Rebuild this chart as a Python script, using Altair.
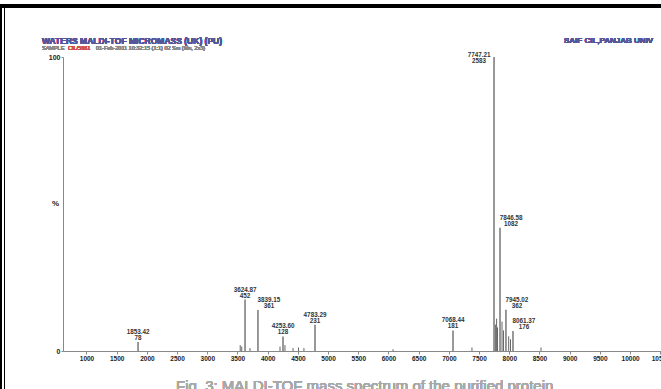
import altair as alt
import pandas as pd

# Labelled peaks of the MALDI-TOF spectrum: m/z and raw counts
peak_mz = [1853.42, 3624.87, 3839.15, 4253.60, 4783.29, 7068.44, 7747.21, 7846.58, 7945.02, 8061.37]
peak_counts = [78, 452, 361, 128, 231, 181, 2583, 1082, 362, 176]

# Unlabelled minor signals (relative intensity, %)
minor_mz = [3545, 3570, 3707, 4204, 4286, 4420, 4510, 4600, 6076, 7382,
            7770, 7790, 7805, 7880, 7905, 7990, 8020, 8525]
minor_rel = [2.0, 1.5, 1.0, 1.5, 2.0, 1.0, 1.2, 1.0, 0.6, 1.2,
             9.0, 11.0, 8.0, 10.0, 7.0, 5.0, 4.0, 1.2]

# Axis ticks
x_ticks = list(range(1000, 10501, 500))
y_ticks = [0, 100]

max_count = max(peak_counts)
peaks = pd.DataFrame({
    "mz": peak_mz,
    "rel": [c / max_count * 100 for c in peak_counts],
    "l1": [f"{m:.2f}" for m in peak_mz],
    "l2": [str(c) for c in peak_counts],
})
minor = pd.DataFrame({"mz": minor_mz, "rel": minor_rel})

W, H = 598, 294
PAD_L, PAD_T = 63, 57
FONT = "Liberation Sans"

x_scale = alt.Scale(domain=[611, 10512], nice=False, zero=False)
y_scale = alt.Scale(domain=[0, 100], nice=False)

x_axis = alt.Axis(values=x_ticks, format="d", title=None, grid=False,
                  labelFlush=False, labelOverlap=False, labelSeparation=0,
                  labelBound=False, tickSize=3, tickColor="#888",
                  domainColor="#888", labelFontSize=6.5, labelFontWeight="bold",
                  labelColor="#222", labelPadding=1, labelFont=FONT)
y_axis = alt.Axis(values=y_ticks, title="%", titleAngle=0, titleX=-8, titleY=150,
                  titleFontSize=8, titleFontWeight="bold", titleColor="#222",
                  titleFont=FONT, grid=False, tickSize=2, tickColor="#888",
                  domainColor="#888", labelFontSize=7, labelFontWeight="bold",
                  labelColor="#222", labelPadding=1, labelFont=FONT)

X = alt.X("mz:Q", scale=x_scale, axis=x_axis)
Y = alt.Y("rel:Q", scale=y_scale, axis=y_axis)

sticks = alt.Chart(peaks).mark_rule(color="#555", strokeWidth=1.2).encode(
    x=X, y=Y, y2=alt.datum(0))

minor_sticks = alt.Chart(minor).mark_rule(color="#666", strokeWidth=1).encode(
    x=X, y=Y, y2=alt.datum(0))

centered = [0, 1, 3, 4, 5]
right_side = [2, 7, 8, 9]
left_side = [6]


def label_layers(rows, dx, dy):
    t = alt.Chart(peaks.iloc[rows])
    common = dict(fontSize=6.3, fontWeight="bold", color="#333", font=FONT,
                  baseline="bottom", align="center", dx=dx)
    first = t.mark_text(dy=dy - 7, **common).encode(x=X, y=Y, text="l1:N")
    second = t.mark_text(dy=dy - 1, **common).encode(x=X, y=Y, text="l2:N")
    return [first, second]


labels = (label_layers(centered, 0, 0) + label_layers(right_side, 11, 0)
          + label_layers(left_side, -15, 8))


def note(text, x, y, size, color, bold=False, baseline="middle"):
    return alt.Chart(peaks).mark_text(
        text=text, align="left", baseline=baseline, fontSize=size,
        fontWeight="bold" if bold else "normal", color=color, font=FONT,
    ).encode(x=alt.value(x - PAD_L), y=alt.value(y - PAD_T))


# Header lines and caption
header = [
    note("WATERS MALDI-TOF MICROMASS (UK) (PU)", 42, 41, 8.5, "#55559a", bold=True),
    note("SAMPLE", 42, 48, 5.5, "#8a8a8a"),
    note("CIL/5661", 68, 48, 5.5, "#d05050"),
    note("01-Feb-2011 10:32:15 (1:1) 02 Sm (Mn, 2x3)", 96, 48, 5.5, "#8a8a8a"),
    note("SAIF CIL,PANJAB UNIV", 564, 41, 8, "#55559a", bold=True),
    note("Fig. 3: MALDI-TOF mass spectrum of the purified protein",
         176, 379, 15, "#a8a8a8", baseline="top"),
]

# Page frame
frame = [
    alt.Chart(peaks).mark_rule(color="black", strokeWidth=3).encode(
        x=alt.value(-PAD_L), x2=alt.value(661 - PAD_L), y=alt.value(6 - PAD_T)),
    alt.Chart(peaks).mark_rule(color="black", strokeWidth=2).encode(
        x=alt.value(1 - PAD_L), y=alt.value(5 - PAD_T), y2=alt.value(389 - PAD_T)),
    alt.Chart(peaks).mark_rule(color="black", strokeWidth=1).encode(
        x=alt.value(4.5 - PAD_L), y=alt.value(6 - PAD_T), y2=alt.value(389 - PAD_T)),
]

chart = alt.layer(minor_sticks, sticks, *labels, *header, *frame).properties(
    width=W, height=H,
    autosize=alt.AutoSizeParams(type="none"),
    padding={"left": PAD_L, "top": PAD_T, "right": 661 - PAD_L - W, "bottom": 389 - PAD_T - H},
    background="white",
).configure_view(stroke=None)

chart.save("out.html", embed_options={"renderer": "svg", "actions": False})
